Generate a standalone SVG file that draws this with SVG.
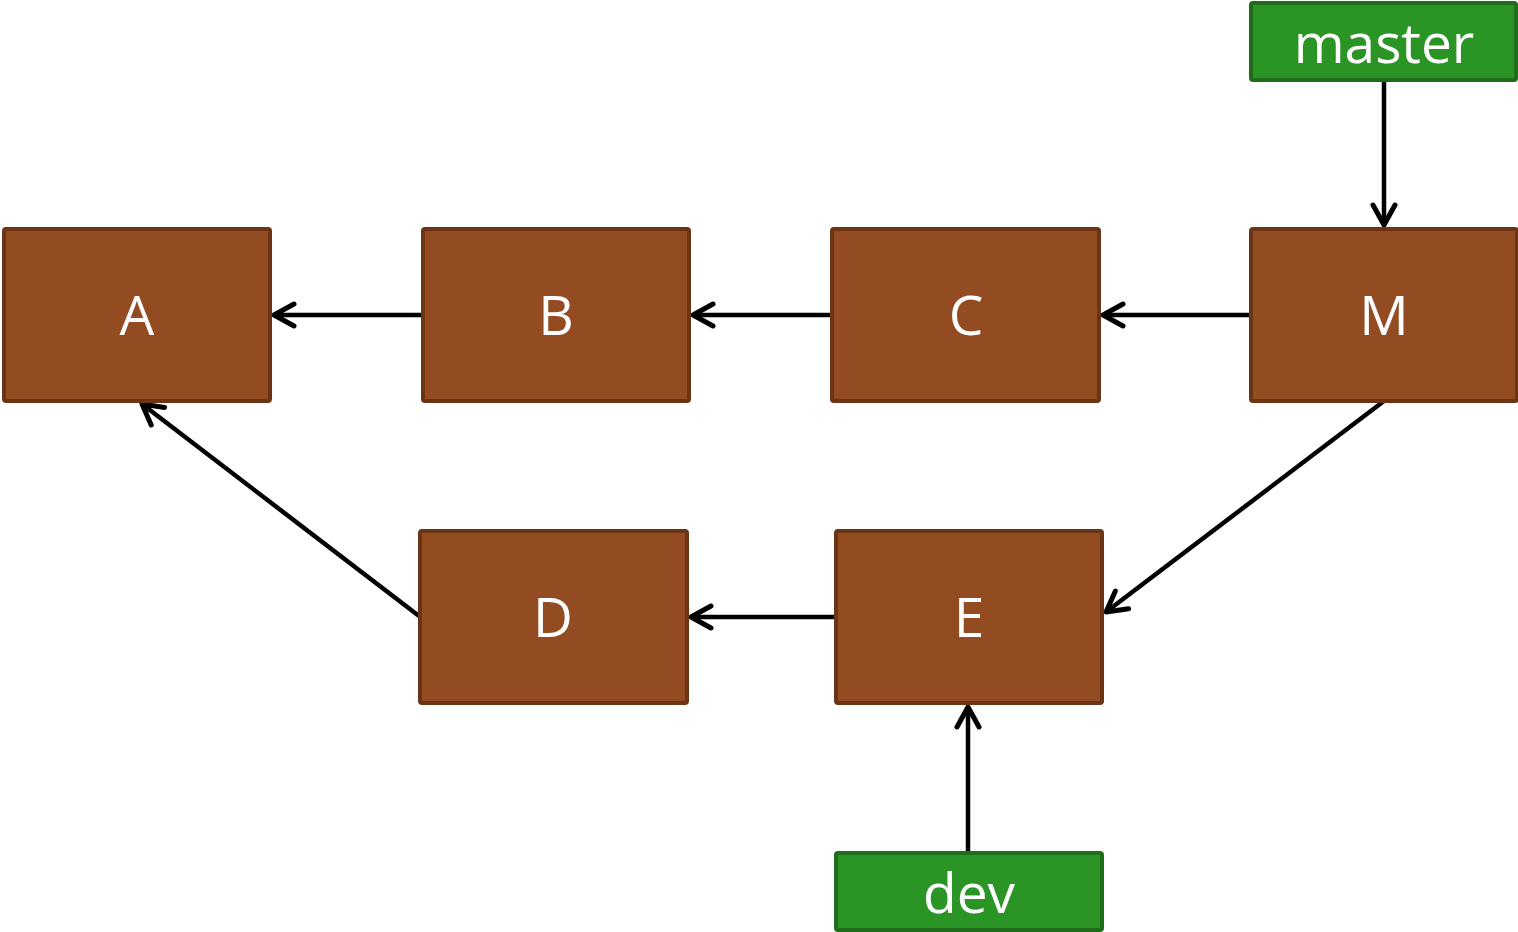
<svg xmlns="http://www.w3.org/2000/svg" width="1518" height="932" viewBox="0 0 1518 932">
<style>
.c{fill:#934b22;stroke:#6b3415;stroke-width:4}
.g{fill:#2a9424;stroke:#1f6c1b;stroke-width:4}
.t{fill:#fff;font-family:"Open Sans","Noto Sans",sans-serif;font-size:55px;text-anchor:middle}
.e{stroke:#000;stroke-width:4.5;fill:none;marker-end:url(#ah)}
</style>
<defs>
<marker id="ah" viewBox="-26 -16 30 32" markerWidth="30" markerHeight="32" refX="0" refY="0" orient="auto" markerUnits="userSpaceOnUse">
<path d="M-20,-11 L0,0 L-20,11" fill="none" stroke="#000" stroke-width="5" stroke-linecap="round" stroke-linejoin="round"/>
</marker>
</defs>
<rect width="1518" height="932" fill="#fff"/>
<g id="connectors">
<line class="e" x1="423" y1="315" x2="274" y2="315"/>
<line class="e" x1="832" y1="315" x2="693" y2="315"/>
<line class="e" x1="1250" y1="315" x2="1103" y2="315"/>
<line class="e" x1="1384" y1="80" x2="1384" y2="225"/>
<line class="e" x1="1384" y1="401" x2="1106" y2="612"/>
<line class="e" x1="835" y1="617" x2="691" y2="617"/>
<line class="e" x1="419" y1="616" x2="142" y2="404"/>
<line class="e" x1="968" y1="852" x2="968" y2="707"/>
</g>
<g id="A"><rect class="c" x="4" y="229" width="266" height="172" rx="2"/><text class="t" x="137" y="335">A</text></g>
<g id="B"><rect class="c" x="423" y="229" width="266" height="172" rx="2"/><text class="t" x="556" y="335">B</text></g>
<g id="C"><rect class="c" x="832" y="229" width="267" height="172" rx="2"/><text class="t" x="966" y="335">C</text></g>
<g id="M"><rect class="c" x="1251" y="229" width="266" height="172" rx="2"/><text class="t" x="1384" y="335">M</text></g>
<g id="D"><rect class="c" x="420" y="531" width="267" height="172" rx="2"/><text class="t" x="553" y="637">D</text></g>
<g id="E"><rect class="c" x="836" y="531" width="266" height="172" rx="2"/><text class="t" x="969" y="637">E</text></g>
<g id="master"><rect class="g" x="1251" y="3" width="265" height="77" rx="2"/><text class="t" x="1384" y="63">master</text></g>
<g id="dev"><rect class="g" x="836" y="853" width="266" height="77" rx="2"/><text class="t" x="969" y="913">dev</text></g>
</svg>
